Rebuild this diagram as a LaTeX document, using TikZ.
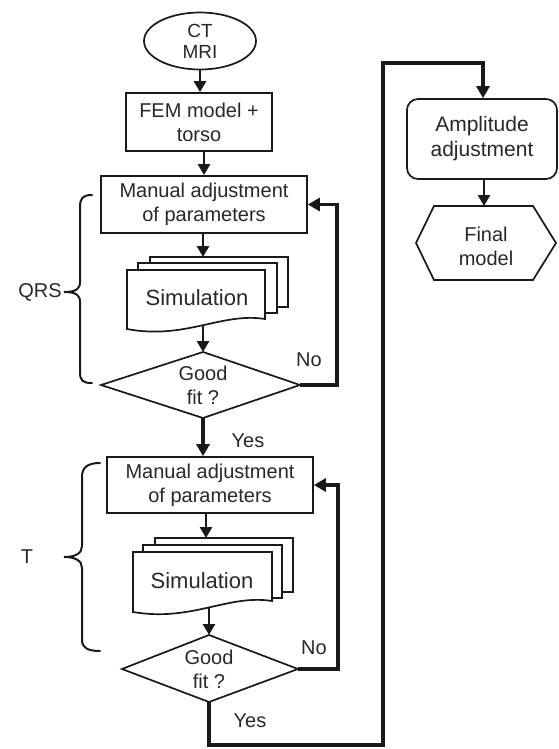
\documentclass[tikz,border=0pt]{standalone}
\usepackage{fontspec}
\setmainfont{Liberation Sans}
\usetikzlibrary{arrows.meta,shapes.geometric}
\definecolor{ink}{RGB}{25,25,25}
\definecolor{txt}{RGB}{40,40,40}
\begin{document}
\begin{tikzpicture}[x=1pt,y=-1pt,
  every node/.style={text=txt, align=center, font=\fontsize{20}{24}\selectfont},
  box/.style={draw=ink, line width=1.7pt, fill=white, inner sep=0pt},
  shapeline/.style={draw=ink, line width=1.7pt, fill=white},
  arr/.style={draw=ink, line width=2.6pt, -{Triangle[width=12pt,length=11pt]}},
  fat/.style={draw=ink, line width=3.8pt},
  fatarr/.style={fat, -{Triangle[width=13pt,length=12pt]}},
  bracestyle/.style={draw=ink, line width=2pt, line cap=round},
  lbl/.style={font=\fontsize{20}{24}\selectfont}
]
\useasboundingbox (0,0) rectangle (559,749);

% ---- top nodes
\node[box, ellipse, minimum width=112pt, minimum height=57pt, font=\fontsize{19}{21}\selectfont] (ct) at (200,41) {CT\\MRI};
\node[box, minimum width=146pt, minimum height=58pt] (fem) at (199,122) {FEM model +\\torso};
\node[box, minimum width=206pt, minimum height=57pt] (m1) at (204,204.5) {Manual adjustment\\of parameters};

% ---- simulation stack 1
\path[shapeline] (150,257) rectangle (288,307);
\path[shapeline] (138,263) rectangle (277,313);
\path[shapeline] (127,270) -- (265,270) -- (265,319) .. controls (222,312) and (185,340) .. (127,329) -- cycle;
\node[font=\fontsize{22}{26}\selectfont] (sim1) at (197,298) {Simulation};
\coordinate (s1top) at (203,257);
\coordinate (s1bot) at (203,326);

% ---- diamond 1
\coordinate (d1n) at (203,352);
\coordinate (d1s) at (203,418);
\coordinate (d1w) at (101,385);
\coordinate (d1e) at (300,385);
\path[shapeline] (d1n) -- (d1e) -- (d1s) -- (d1w) -- cycle;
\node[inner sep=0pt] (d1) at (203,385) {Good\\fit ?};

% ---- second block
\node[box, minimum width=206pt, minimum height=56pt] (m2) at (210,485) {Manual adjustment\\of parameters};

\path[shapeline] (155,538) rectangle (293,592);
\path[shapeline] (143,545) rectangle (282,598);
\path[shapeline] (133,552) -- (272,552) -- (272,601) .. controls (228,594) and (192,622) .. (133,612) -- cycle;
\node[font=\fontsize{22}{26}\selectfont] (sim2) at (202,581) {Simulation};
\coordinate (s2top) at (206,538);
\coordinate (s2bot) at (209,608);

\coordinate (d2n) at (209,635);
\coordinate (d2s) at (209,702);
\coordinate (d2w) at (122,669);
\coordinate (d2e) at (298,669);
\path[shapeline] (d2n) -- (d2e) -- (d2s) -- (d2w) -- cycle;
\node[inner sep=0pt] (d2) at (209,669) {Good\\fit ?};

% ---- right column
\node[box, rounded corners=11pt, minimum width=150pt, minimum height=80pt, font=\fontsize{21}{25}\selectfont] (amp) at (482,139) {Amplitude\\adjustment};
\coordinate (finN) at (484,206);
\path[shapeline] (416,243) -- (434,206) -- (533,206) -- (556,243) -- (533,280) -- (434,280) -- cycle;
\node (fin) at (486,246) {Final\\model};

% ---- connectors
\draw[arr] (ct.south) -- (ct.south |- fem.north);
\draw[arr] (fem.south -| m1.north) -- (m1.north);
\draw[arr] (m1.south -| s1top) -- (s1top);
\draw[arr] (s1bot) -- (d1n);
\draw[fatarr] (d1s) -- (d1s |- m2.north);
\draw[fatarr] (d1e) -- ++(37,0) |- (m1.east);
\draw[arr] (m2.south -| s2top) -- (s2top);
\draw[arr] (s2bot) -- (d2n);
\draw[fatarr] (d2e) -- ++(40,0) |- (m2.east);
\coordinate (c1) at (383,745);
\coordinate (c2) at (483,63);
\draw[fatarr] (d2s) |- (c1) |- (c2) -- (c2 |- amp.north);
\draw[arr] (amp.south -| finN) -- (finN);

% ---- labels
\node[lbl] (no1) at (309,360) {No};
\node[lbl] (yes1) at (248,441) {Yes};
\node[lbl] (no2) at (314,648) {No};
\node[lbl] (yes2) at (250,721) {Yes};

% ---- braces
\draw[bracestyle] (92,195) .. controls (83,195) and (80,198) .. (80,207) -- (80,282) .. controls (80,289) and (76,292) .. (64,292) .. controls (76,292) and (80,295) .. (80,302) -- (80,372) .. controls (80,381) and (83,383) .. (92,383);
\node[lbl] (qrs) at (40,292) {QRS};
\draw[bracestyle] (100,463) .. controls (88,463) and (82,467) .. (82,477) -- (82,546) .. controls (82,553) and (76,557) .. (64,557) .. controls (76,557) and (82,561) .. (82,568) -- (82,640) .. controls (82,648) and (88,651) .. (100,651);
\node[lbl] (tl) at (27,557) {T};
\end{tikzpicture}
\end{document}
